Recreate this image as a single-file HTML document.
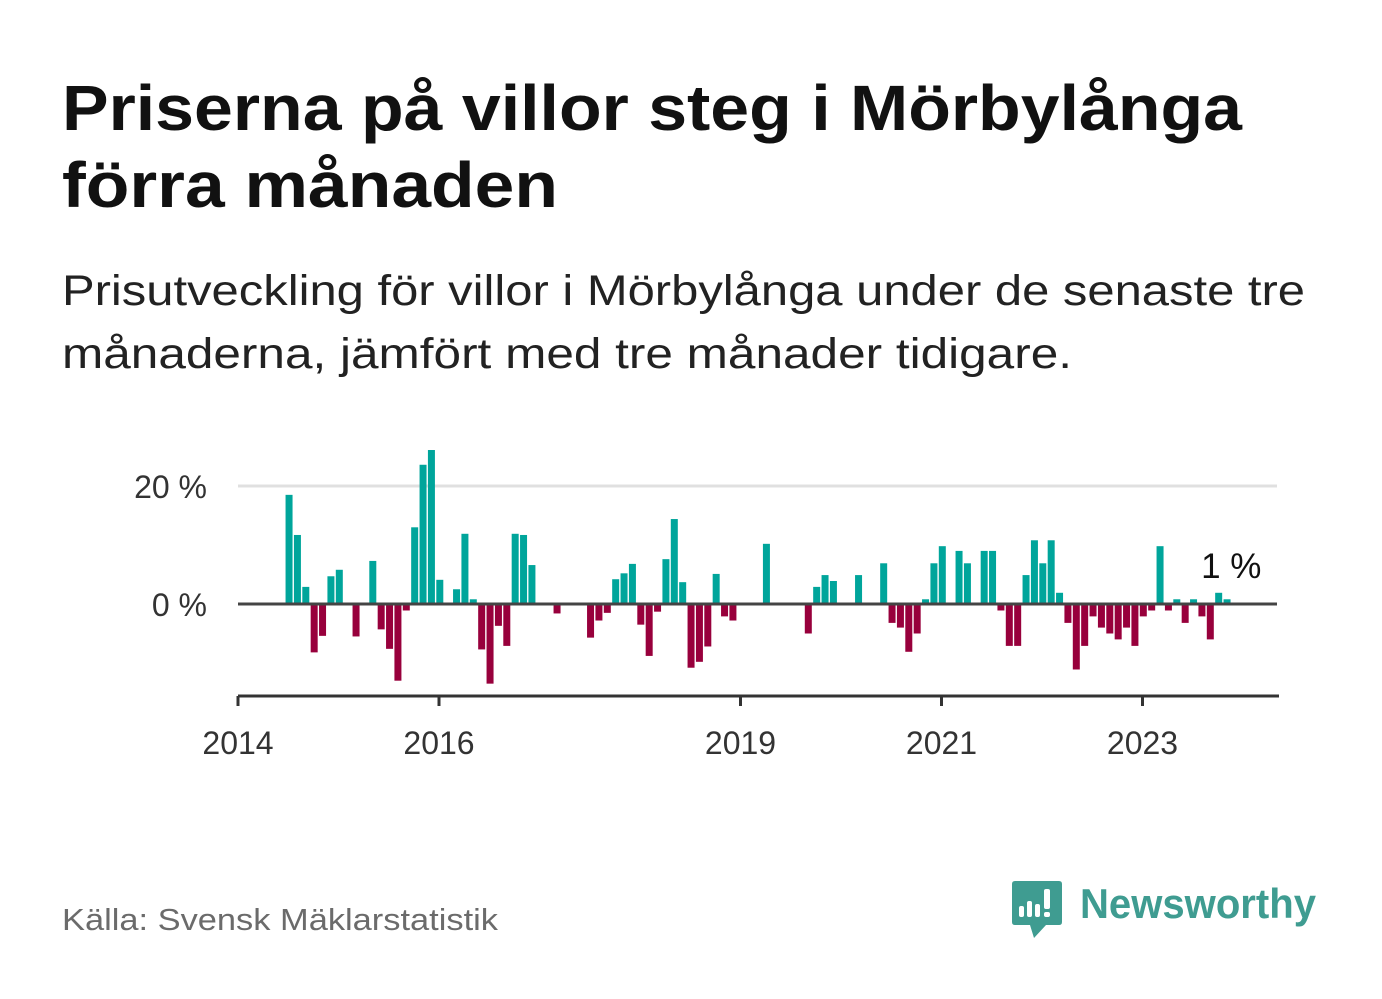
<!DOCTYPE html>
<html><head><meta charset="utf-8"><style>
html,body{margin:0;padding:0;background:#fff;}
svg{display:block;font-family:"Liberation Sans",sans-serif;}
</style></head><body>
<svg id="chart" width="1382" height="999" viewBox="0 0 1382 999">
<text x="62" y="130" font-size="64" font-weight="bold" fill="#111" textLength="1180" lengthAdjust="spacingAndGlyphs">Priserna på villor steg i Mörbylånga</text>
<text x="62" y="207" font-size="64" font-weight="bold" fill="#111" textLength="496" lengthAdjust="spacingAndGlyphs">förra månaden</text>
<text x="62" y="305" font-size="43" fill="#222" textLength="1243" lengthAdjust="spacingAndGlyphs">Prisutveckling för villor i Mörbylånga under de senaste tre</text>
<text x="62" y="368" font-size="43" fill="#222" textLength="1010" lengthAdjust="spacingAndGlyphs">månaderna, jämfört med tre månader tidigare.</text>
<g id="plot"></g>
<text x="62" y="930" font-size="31" fill="#6b6b6b" textLength="436" lengthAdjust="spacingAndGlyphs">Källa: Svensk Mäklarstatistik</text>
<g>
<path d="M1015 881 H1059 Q1062 881 1062 884 V922 Q1062 925 1059 925 H1046 L1034 938 L1030 925 H1015 Q1012 925 1012 922 V884 Q1012 881 1015 881 Z" fill="#3f9c91"/>
<rect x="1019" y="906" width="5" height="11" rx="2" fill="#fff"/>
<rect x="1027" y="901" width="5" height="16" rx="2" fill="#fff"/>
<rect x="1035" y="904" width="5" height="13" rx="2" fill="#fff"/>
<rect x="1044" y="889" width="6" height="20" rx="2" fill="#fff"/>
<rect x="1044" y="912" width="6" height="5" rx="2" fill="#fff"/>
<text x="1080" y="918" font-size="42" font-weight="bold" fill="#3f9c91" textLength="236" lengthAdjust="spacingAndGlyphs">Newsworthy</text>
</g>
</svg>
<script>
const monthIndex = [6,7,8,9,10,11,12,14,16,17,18,19,20,21,22,23,24,26,27,28,29,30,31,32,33,34,35,38,42,43,44,45,46,47,48,49,50,51,52,53,54,55,56,57,58,59,63,68,69,70,71,74,77,78,79,80,81,82,83,84,86,87,89,90,91,92,93,94,95,96,97,98,99,100,101,102,103,104,105,106,107,108,109,110,111,112,113,114,115,116,117,118];
const values = [18.5,11.7,2.9,-8.2,-5.4,4.7,5.8,-5.5,7.3,-4.3,-7.6,-13.0,-1.1,13.0,23.6,26.1,4.1,2.5,11.9,0.8,-7.7,-13.5,-3.7,-7.1,11.9,11.7,6.6,-1.6,-5.7,-2.8,-1.5,4.2,5.2,6.8,-3.5,-8.8,-1.3,7.6,14.4,3.7,-10.8,-9.8,-7.2,5.1,-2.1,-2.8,10.2,-5.0,2.9,4.9,3.9,4.9,6.9,-3.2,-4.0,-8.1,-5.0,0.8,6.9,9.8,9.0,6.9,9.0,9.0,-1.1,-7.1,-7.1,4.9,10.8,6.9,10.8,1.9,-3.2,-11.1,-7.1,-2.1,-4.0,-5.0,-6.0,-4.0,-7.1,-2.1,-1.1,9.8,-1.1,0.8,-3.2,0.8,-2.1,-6.0,1.9,0.8];
const yTicks = [0,20];
const yTickLabels = ["0 %","20 %"];
const xTickYears = [2014,2016,2019,2021,2023];
const lastLabel = "1 %";

const NS = "http://www.w3.org/2000/svg";
const g = document.getElementById('plot');
const x = m => 238 + m * (100.5 / 12);
const y = v => 604 - v * 5.9;
function mk(tag, attrs){const e=document.createElementNS(NS,tag);for(const k in attrs)e.setAttribute(k,attrs[k]);g.appendChild(e);return e;}

yTicks.forEach((t,i)=>{
  if(t!==0){const l=mk('line',{x1:238,x2:1277,y1:y(t),y2:y(t),stroke:'#e0e0e0','stroke-width':3});
  
  }
  const tx=mk('text',{x:207,y:y(t)+12,'font-size':32,fill:'#333','text-anchor':'end'});
  tx.textContent=yTickLabels[i];
  
  
});
monthIndex.forEach((m,i)=>{
  const v=values[i];
  const r=mk('rect',{x:x(m)-2.7,width:7,y:Math.min(y(v),y(0)),height:Math.abs(y(v)-y(0)),fill:v>=0?'#00a59b':'#98003c'});
  
  
});
const z=mk('line',{x1:238,x2:1277,y1:y(0),y2:y(0),stroke:'#444','stroke-width':3});


const ax=mk('line',{x1:238,x2:1279,y1:696,y2:696,stroke:'#333','stroke-width':3});


xTickYears.forEach(yr=>{
  const px=x((yr-2014)*12);
  const t=mk('line',{x1:px,x2:px,y1:696,y2:706,stroke:'#333','stroke-width':3});
  
  
  const tx=mk('text',{x:px,y:754,'font-size':32,fill:'#333','text-anchor':'middle'});
  tx.textContent=String(yr);
  
  
});
const lm=monthIndex[monthIndex.length-1];
const ll=mk('text',{x:x(lm)+5,y:578,'font-size':35,fill:'#111','text-anchor':'middle'});
ll.textContent=lastLabel;


</script>
</body></html>
